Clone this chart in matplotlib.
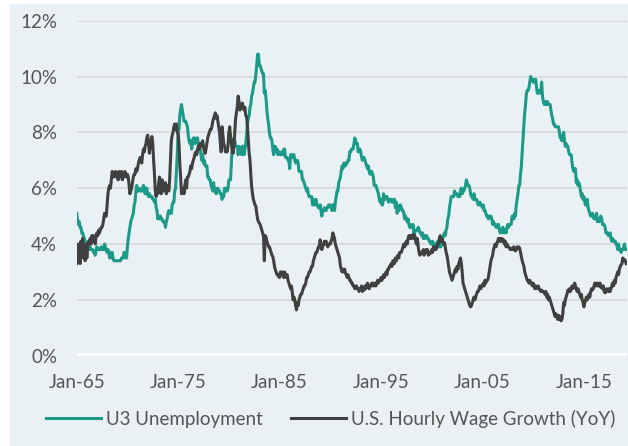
import pandas as pd
import matplotlib
matplotlib.use("Agg")
import matplotlib.pyplot as plt
import matplotlib.dates as mdates
from matplotlib.patches import Rectangle
from matplotlib.ticker import FuncFormatter

# monthly values, Jan 1965 - Mar 2019
u3 = [
    5.1, 4.9, 4.7, 4.8, 4.6, 4.6, 4.4, 4.4, 4.3, 4.2, 4.1, 4.0,  # 1965
    4.0, 3.8, 3.8, 3.8, 3.9, 3.8, 3.8, 3.8, 3.7, 3.7, 3.6, 3.8,
    3.9, 3.8, 3.8, 3.8, 3.8, 3.9, 3.8, 3.8, 3.8, 4.0, 3.9, 3.8,
    3.7, 3.8, 3.7, 3.5, 3.5, 3.7, 3.7, 3.5, 3.4, 3.4, 3.4, 3.4,
    3.4, 3.4, 3.4, 3.4, 3.4, 3.5, 3.5, 3.5, 3.7, 3.7, 3.5, 3.5,
    3.9, 4.2, 4.4, 4.6, 4.8, 4.9, 5.0, 5.1, 5.4, 5.5, 5.9, 6.1,  # 1970
    5.9, 5.9, 6.0, 5.9, 5.9, 5.9, 6.0, 6.1, 6.0, 5.8, 6.0, 6.0,
    5.8, 5.7, 5.8, 5.7, 5.7, 5.7, 5.6, 5.6, 5.5, 5.6, 5.3, 5.2,
    4.9, 5.0, 4.9, 5.0, 4.9, 4.9, 4.8, 4.8, 4.8, 4.6, 4.8, 4.9,
    5.1, 5.2, 5.1, 5.1, 5.1, 5.4, 5.5, 5.5, 5.9, 6.0, 6.6, 7.2,
    8.1, 8.1, 8.6, 8.8, 9.0, 8.8, 8.6, 8.4, 8.4, 8.4, 8.3, 8.2,  # 1975
    7.9, 7.7, 7.6, 7.7, 7.4, 7.6, 7.8, 7.8, 7.6, 7.7, 7.8, 7.8,
    7.5, 7.6, 7.4, 7.2, 7.0, 7.2, 6.9, 7.0, 6.8, 6.8, 6.8, 6.4,
    6.4, 6.3, 6.3, 6.1, 6.0, 5.9, 6.2, 5.9, 6.0, 5.8, 5.9, 6.0,
    5.9, 5.9, 5.8, 5.8, 5.6, 5.7, 5.7, 6.0, 5.9, 6.0, 5.9, 6.0,
    6.3, 6.3, 6.3, 6.9, 7.5, 7.6, 7.8, 7.7, 7.5, 7.5, 7.5, 7.2,  # 1980
    7.5, 7.4, 7.4, 7.2, 7.5, 7.5, 7.2, 7.4, 7.6, 7.9, 8.3, 8.5,
    8.6, 8.9, 9.0, 9.3, 9.4, 9.6, 9.8, 9.8, 10.1, 10.4, 10.8, 10.8,
    10.4, 10.4, 10.3, 10.2, 10.1, 10.1, 9.4, 9.5, 9.2, 8.8, 8.5, 8.3,
    8.0, 7.8, 7.8, 7.7, 7.4, 7.2, 7.5, 7.5, 7.3, 7.4, 7.2, 7.3,
    7.3, 7.2, 7.2, 7.3, 7.2, 7.4, 7.4, 7.1, 7.1, 7.1, 7.0, 7.0,  # 1985
    6.7, 7.2, 7.2, 7.1, 7.2, 7.2, 7.0, 6.9, 7.0, 7.0, 6.9, 6.6,
    6.6, 6.6, 6.6, 6.3, 6.3, 6.2, 6.1, 6.0, 5.9, 6.0, 5.8, 5.7,
    5.7, 5.7, 5.7, 5.4, 5.6, 5.4, 5.4, 5.6, 5.4, 5.4, 5.3, 5.3,
    5.4, 5.2, 5.0, 5.2, 5.2, 5.3, 5.2, 5.2, 5.3, 5.3, 5.4, 5.4,
    5.4, 5.3, 5.2, 5.4, 5.4, 5.2, 5.5, 5.7, 5.9, 5.9, 6.2, 6.3,  # 1990
    6.4, 6.6, 6.8, 6.7, 6.9, 6.9, 6.8, 6.9, 6.9, 7.0, 7.0, 7.3,
    7.3, 7.4, 7.4, 7.4, 7.6, 7.8, 7.7, 7.6, 7.6, 7.3, 7.4, 7.4,
    7.3, 7.1, 7.0, 7.1, 7.1, 7.0, 6.9, 6.8, 6.7, 6.8, 6.6, 6.5,
    6.6, 6.6, 6.5, 6.4, 6.1, 6.1, 6.1, 6.0, 5.9, 5.8, 5.6, 5.5,
    5.6, 5.4, 5.4, 5.8, 5.6, 5.6, 5.7, 5.7, 5.6, 5.5, 5.6, 5.6,  # 1995
    5.6, 5.5, 5.5, 5.6, 5.6, 5.3, 5.5, 5.1, 5.2, 5.2, 5.4, 5.4,
    5.3, 5.2, 5.2, 5.1, 4.9, 5.0, 4.9, 4.8, 4.9, 4.7, 4.6, 4.7,
    4.6, 4.6, 4.7, 4.3, 4.4, 4.5, 4.5, 4.5, 4.6, 4.5, 4.4, 4.4,
    4.3, 4.4, 4.2, 4.3, 4.2, 4.3, 4.3, 4.2, 4.2, 4.1, 4.1, 4.0,
    4.0, 4.1, 4.0, 3.8, 4.0, 4.0, 4.0, 4.1, 3.9, 3.9, 3.9, 3.9,  # 2000
    4.2, 4.2, 4.3, 4.4, 4.3, 4.5, 4.6, 4.9, 5.0, 5.3, 5.5, 5.7,
    5.7, 5.7, 5.7, 5.9, 5.8, 5.8, 5.8, 5.7, 5.7, 5.7, 5.9, 6.0,
    5.8, 5.9, 5.9, 6.0, 6.1, 6.3, 6.2, 6.1, 6.1, 6.0, 5.8, 5.7,
    5.7, 5.6, 5.8, 5.6, 5.6, 5.6, 5.5, 5.4, 5.4, 5.5, 5.4, 5.4,
    5.3, 5.4, 5.2, 5.2, 5.1, 5.0, 5.0, 4.9, 5.0, 5.0, 5.0, 4.9,  # 2005
    4.7, 4.8, 4.7, 4.7, 4.6, 4.6, 4.7, 4.7, 4.5, 4.4, 4.5, 4.4,
    4.6, 4.5, 4.4, 4.5, 4.4, 4.6, 4.7, 4.6, 4.7, 4.7, 4.7, 5.0,
    5.0, 4.9, 5.1, 5.0, 5.4, 5.6, 5.8, 6.1, 6.1, 6.5, 6.8, 7.3,
    7.8, 8.3, 8.7, 9.0, 9.4, 9.5, 9.5, 9.6, 9.8, 10.0, 9.9, 9.9,
    9.8, 9.8, 9.9, 9.9, 9.6, 9.4, 9.4, 9.5, 9.5, 9.4, 9.8, 9.3,  # 2010
    9.1, 9.0, 9.0, 9.1, 9.0, 9.1, 9.0, 9.0, 9.0, 8.8, 8.6, 8.5,
    8.3, 8.3, 8.2, 8.2, 8.2, 8.2, 8.2, 8.0, 7.8, 7.8, 7.7, 7.9,
    8.0, 7.7, 7.5, 7.6, 7.5, 7.5, 7.3, 7.2, 7.2, 7.2, 6.9, 6.7,
    6.6, 6.7, 6.7, 6.2, 6.3, 6.1, 6.2, 6.1, 5.9, 5.7, 5.8, 5.6,
    5.7, 5.5, 5.4, 5.4, 5.6, 5.3, 5.2, 5.1, 5.0, 5.0, 5.1, 5.0,  # 2015
    4.9, 4.9, 5.0, 5.1, 4.8, 4.9, 4.8, 4.9, 5.0, 4.9, 4.7, 4.7,
    4.7, 4.6, 4.4, 4.4, 4.4, 4.3, 4.3, 4.4, 4.2, 4.1, 4.2, 4.1,
    4.1, 4.1, 4.0, 4.0, 3.8, 4.0, 3.8, 3.8, 3.7, 3.8, 3.8, 3.9,
    4.0, 3.8, 3.8,
]

wage = [
    3.3, 4.0, 3.4, 3.9, 3.3, 4.1, 3.6, 4.2, 3.5, 3.9, 3.4, 4.0,  # 1965
    3.5, 3.9, 4.1, 4.0, 4.2, 4.0, 4.3, 4.1, 4.3, 4.2, 4.0, 4.3,
    4.4, 4.3, 4.5, 4.4, 4.5, 4.6, 4.6, 4.7, 4.9, 5.1, 5.0, 5.0,
    5.4, 5.8, 6.0, 6.1, 6.0, 6.3, 6.6, 6.5, 6.4, 6.5, 6.6, 6.4,
    6.5, 6.3, 6.6, 6.4, 6.5, 6.6, 6.3, 6.5, 6.4, 6.6, 6.5, 6.4,
    6.5, 6.4, 6.1, 5.8, 5.9, 6.0, 6.2, 6.4, 6.5, 6.5, 6.7, 6.6,  # 1970
    6.7, 6.9, 7.0, 7.1, 7.0, 6.9, 7.2, 7.4, 7.3, 7.5, 7.6, 7.8,
    7.9, 7.6, 7.25, 7.5, 7.7, 7.85, 7.6, 7.0, 6.5, 5.9, 5.7, 6.0,
    5.8, 6.2, 6.4, 6.0, 5.8, 6.3, 6.1, 5.9, 6.0, 6.2, 5.8, 6.1,
    6.0, 5.9, 6.3, 7.0, 7.7, 7.9, 8.0, 8.2, 8.3, 8.1, 8.3, 8.0,
    7.97, 7.6, 6.9, 6.4, 5.8, 5.9, 6.0, 5.8, 6.1, 6.3, 6.0, 6.4,  # 1975
    6.4, 6.5, 6.6, 6.8, 6.7, 6.9, 7.0, 7.1, 7.25, 7.3, 7.2, 7.4,
    7.5, 7.4, 7.6, 7.5, 7.6, 7.7, 7.5, 7.3, 7.25, 7.4, 7.6, 7.8,
    7.9, 8.0, 8.1, 8.1, 8.2, 8.4, 8.5, 8.6, 8.7, 8.5, 8.6, 8.4,
    8.2, 8.0, 7.6, 7.3, 8.2, 7.9, 7.6, 7.5, 7.3, 7.4, 7.3, 7.5,
    8.0, 8.2, 7.85, 7.6, 7.4, 7.25, 7.5, 8.0, 8.5, 8.7, 8.93, 9.3,  # 1980
    9.1, 8.8, 8.9, 9.0, 9.05, 8.9, 8.8, 8.9, 8.6, 8.57, 8.2, 7.7,
    7.25, 7.0, 6.5, 6.05, 5.8, 5.6, 5.5, 5.4, 5.34, 5.1, 4.9, 4.8,
    4.75, 4.7, 4.6, 4.5, 4.4, 4.3, 3.4, 4.3, 4.25, 4.1, 4.0, 3.9,
    3.9, 3.8, 3.7, 3.6, 3.55, 3.4, 3.2, 3.07, 3.0, 2.9, 2.9, 2.83,
    2.8, 3.0, 2.9, 3.0, 2.9, 2.8, 3.0, 2.9, 2.8, 2.9, 2.7, 2.6,  # 1985
    2.5, 2.4, 2.5, 2.3, 2.0, 2.1, 2.0, 1.8, 1.64, 1.9, 1.8, 2.0,
    2.1, 2.2, 2.2, 2.3, 2.4, 2.5, 2.5, 2.6, 2.8, 2.8, 2.9, 3.0,
    3.0, 3.1, 3.2, 3.2, 3.4, 3.5, 3.6, 3.7, 3.7, 3.8, 3.9, 3.9,
    4.15, 3.9, 3.8, 3.9, 4.0, 4.1, 4.0, 4.1, 4.0, 3.9, 4.0, 4.0,
    4.0, 4.1, 4.2, 4.4, 4.3, 4.2, 4.0, 3.9, 3.8, 3.7, 3.6, 3.5,  # 1990
    3.2, 3.1, 3.0, 3.1, 3.0, 3.1, 2.95, 2.9, 2.8, 2.9, 2.8, 2.7,
    2.7, 2.6, 2.6, 2.5, 2.5, 2.4, 2.4, 2.5, 2.4, 2.4, 2.3, 2.4,
    2.4, 2.5, 2.3, 2.4, 2.35, 2.5, 2.4, 2.5, 2.6, 2.5, 2.4, 2.5,
    2.5, 2.6, 2.5, 2.6, 2.5, 2.6, 2.5, 2.6, 2.7, 2.6, 2.7, 2.7,
    2.8, 2.7, 2.8, 2.9, 2.8, 2.9, 3.0, 2.9, 3.1, 3.1, 3.2, 3.2,  # 1995
    3.3, 3.2, 3.4, 3.4, 3.3, 3.5, 3.4, 3.5, 3.6, 3.5, 3.7, 3.7,
    3.7, 3.8, 3.9, 4.0, 3.9, 4.0, 4.1, 4.0, 4.2, 4.3, 4.2, 4.3,
    4.2, 4.3, 4.35, 4.2, 4.3, 4.1, 4.0, 4.2, 3.9, 3.7, 3.6, 3.7,
    3.65, 3.7, 3.8, 3.6, 3.7, 3.8, 3.7, 3.8, 3.6, 3.7, 3.65, 3.7,
    3.8, 3.7, 3.9, 3.8, 3.9, 3.8, 3.9, 4.0, 4.0, 4.2, 4.3, 4.1,  # 2000
    4.2, 4.1, 4.0, 4.05, 3.9, 3.7, 3.6, 3.4, 3.2, 3.0, 2.9, 2.8,
    2.7, 2.8, 2.9, 3.0, 3.1, 3.0, 3.2, 3.1, 3.3, 3.4, 3.5, 3.3,
    3.0, 2.6, 2.5, 2.4, 2.3, 2.2, 2.1, 2.0, 1.9, 1.8, 1.75, 1.8,
    1.9, 2.0, 2.1, 2.0, 2.1, 2.2, 2.3, 2.3, 2.4, 2.5, 2.4, 2.5,
    2.5, 2.6, 2.5, 2.7, 2.6, 2.7, 2.7, 2.8, 3.0, 3.2, 3.4, 3.5,  # 2005
    3.6, 3.8, 3.9, 4.0, 3.9, 4.0, 4.1, 4.2, 4.1, 4.2, 4.1, 4.2,
    4.1, 4.15, 4.0, 4.1, 3.9, 4.0, 3.9, 3.9, 3.85, 3.8, 3.8, 3.85,
    3.8, 3.9, 3.8, 3.75, 3.8, 3.9, 3.85, 3.9, 3.85, 3.7, 3.55, 3.4,
    3.3, 3.2, 3.0, 2.9, 2.8, 2.7, 2.7, 2.6, 2.7, 2.6, 2.6, 2.5,
    2.6, 2.5, 2.4, 2.5, 2.45, 2.4, 2.5, 2.4, 2.35, 2.3, 2.35, 2.3,  # 2010
    2.3, 2.25, 2.2, 2.3, 2.1, 2.2, 2.0, 2.1, 2.0, 1.9, 1.8, 1.7,
    1.6, 1.5, 1.4, 1.5, 1.4, 1.3, 1.45, 1.3, 1.4, 1.25, 1.3, 1.5,
    1.9, 1.8, 2.0, 2.1, 2.2, 2.35, 2.3, 2.4, 2.3, 2.4, 2.5, 2.4,
    2.5, 2.6, 2.5, 2.4, 2.3, 2.4, 2.3, 2.2, 2.1, 2.2, 2.0, 1.9,
    1.75, 1.9, 2.0, 2.1, 2.0, 2.1, 2.2, 2.1, 2.3, 2.4, 2.35, 2.4,  # 2015
    2.5, 2.6, 2.5, 2.6, 2.5, 2.6, 2.5, 2.6, 2.45, 2.5, 2.4, 2.5,
    2.3, 2.25, 2.3, 2.4, 2.35, 2.3, 2.4, 2.3, 2.4, 2.5, 2.6, 2.5,
    2.7, 2.6, 2.8, 2.9, 3.0, 2.9, 3.1, 3.2, 3.25, 3.3, 3.5, 3.4,
    3.45, 3.4, 3.3,
]

dates = pd.date_range("1965-01-01", periods=len(u3), freq="MS")
tick_years = [1965, 1975, 1985, 1995, 2005, 2015]

teal = "#1b9a88"
dark = "#404040"
bg = "#e9f1f4"
text_color = "#555555"

plt.rcParams["font.family"] = ["Lato", "DejaVu Sans"]

fig = plt.figure(figsize=(6.28, 4.46), dpi=100)
fig.patch.set_facecolor("white")
fig.patches.append(Rectangle((10 / 628, 0), 1, 1 - 4 / 446, transform=fig.transFigure,
                             facecolor=bg, edgecolor="none", zorder=-10))

ax = fig.add_axes([76.7 / 628, 1 - 355.7 / 446, (627 - 76.7) / 628, (355.7 - 20.7) / 446])
ax.set_facecolor(bg)
ax.set_zorder(5)

for y in range(2, 13, 2):
    ax.axhline(y, color="#d9d9d9", lw=1.3, zorder=1)
ax.axhline(0, color="white", lw=4, zorder=1)

ax.plot(dates, u3, color=teal, lw=2.2, label="U3 Unemployment", zorder=3)
ax.plot(dates, wage, color=dark, lw=2.2, label="U.S. Hourly Wage Growth (YoY)", zorder=3)

ax.set_ylim(0, 12)
ax.set_yticks(range(0, 13, 2))
ax.yaxis.set_major_formatter(FuncFormatter(lambda v, p: f"{v:.0f}%"))
ax.set_xlim(pd.Timestamp("1965-01-01"), pd.Timestamp("2019-04-01"))
ax.set_xticks([pd.Timestamp(f"{yr}-01-01") for yr in tick_years])
ax.xaxis.set_major_formatter(mdates.DateFormatter("Jan-%y"))

for s in ax.spines.values():
    s.set_visible(False)
ax.tick_params(axis="both", length=0, labelsize=13.5, colors=text_color)
ax.tick_params(axis="y", pad=14)
ax.tick_params(axis="x", pad=13)

leg = fig.legend(loc="center", bbox_to_anchor=(331 / 628, 1 - 419 / 446), ncol=2,
                 frameon=False, fontsize=13.5, handlelength=2.9, handletextpad=0.3,
                 columnspacing=1.5)
for t in leg.get_texts():
    t.set_color(text_color)

fig.savefig("out.png", dpi=100, facecolor=fig.get_facecolor())
